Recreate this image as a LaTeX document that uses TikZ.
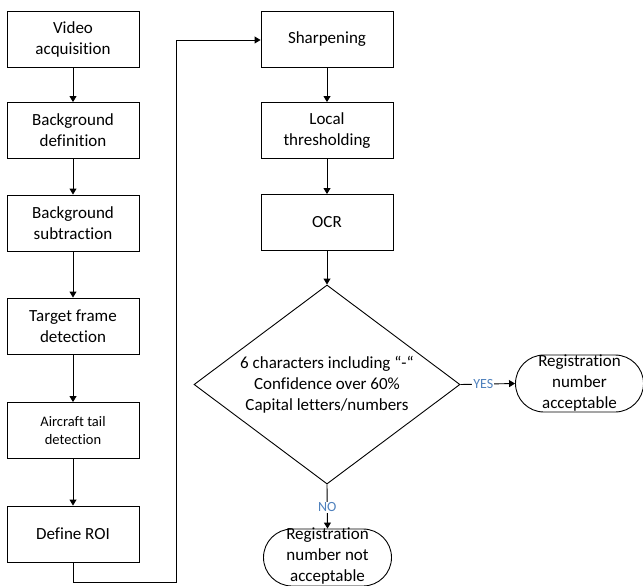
\documentclass[tikz,border=0pt]{standalone}
\usepackage{fontspec}
\setmainfont{Carlito}[Ligatures=NoCommon]
\usetikzlibrary{arrows.meta,shapes.geometric,shapes.misc}
\begin{document}
\begin{tikzpicture}[x=1pt,y=-1pt,
  every node/.style={font=\fontsize{17}{21}\selectfont},
  box/.style={draw,line width=0.9pt,minimum width=132pt,minimum height=56pt,align=center,inner sep=0pt},
  term/.style={draw,line width=0.9pt,rounded rectangle,minimum width=128pt,minimum height=57pt,inner sep=0pt},
  dec/.style={draw,line width=0.9pt,diamond,minimum width=266pt,minimum height=199pt,inner sep=0pt},
  txt/.style={align=center,inner sep=0pt},
  lab/.style={fill=white,text=lbl,inner sep=1pt,font=\fontsize{14}{16}\selectfont},
  arr/.style={line width=0.9pt,-{Triangle[length=6pt,width=7pt]}}]
\definecolor{lbl}{HTML}{4F81BD}
\useasboundingbox (0,0) rectangle (643,586);
\begin{scope}
\clip (0,0) rectangle (643,586);
\node[box] (va) at (73,39) {Video\\acquisition};
\node[box] (bd) at (73,130.5) {Background\\definition};
\node[box] (bs) at (73,223) {Background\\subtraction};
\node[box] (tf) at (73,326) {Target frame\\detection};
\node[box,font=\fontsize{14.5}{18}\selectfont] (at) at (73,430.5) {Aircraft tail\\detection};
\node[box] (dr) at (73,534) {Define ROI};
\node[box] (sh) at (327,39.5) {Sharpening};
\node[box] (lt) at (327,130.5) {Local\\thresholding};
\node[box] (ocr) at (327,222.5) {OCR};
\node[dec] (d) at (327,384.5) {};
\node[txt] (dt) at (d.center) {6 characters including “-“\\Confidence over 60\%\\Capital letters/numbers};
\node[term] (ok) at (579.5,383.5) {};
\node[txt] (okt) at (ok.center) {Registration\\number\\acceptable};
\node[term] (nok) at (327.5,557.5) {};
\node[txt] (nokt) at ([yshift=1pt]nok.center) {Registration\\number not\\acceptable};
\draw[arr] (va) -- (bd);
\draw[arr] (bd) -- (bs);
\draw[arr] (bs) -- (tf);
\draw[arr] (tf) -- (at);
\draw[arr] (at) -- (dr);
\coordinate (c1) at (176,582);
\coordinate (c2) at (176,40);
\draw[arr] (dr.south) |- (c1) -- (c2) -- (sh.west |- c2);
\draw[arr] (sh) -- (lt);
\draw[arr] (lt) -- (ocr);
\draw[arr] (ocr) -- (d.north);
\draw[arr] (d.east) -- node[lab,pos=0.42] (yes) {YES} (ok.west);
\draw[arr] (d.south) -- node[lab,pos=0.52] (no) {NO} (nok.north);
\end{scope}
\end{tikzpicture}
\end{document}
